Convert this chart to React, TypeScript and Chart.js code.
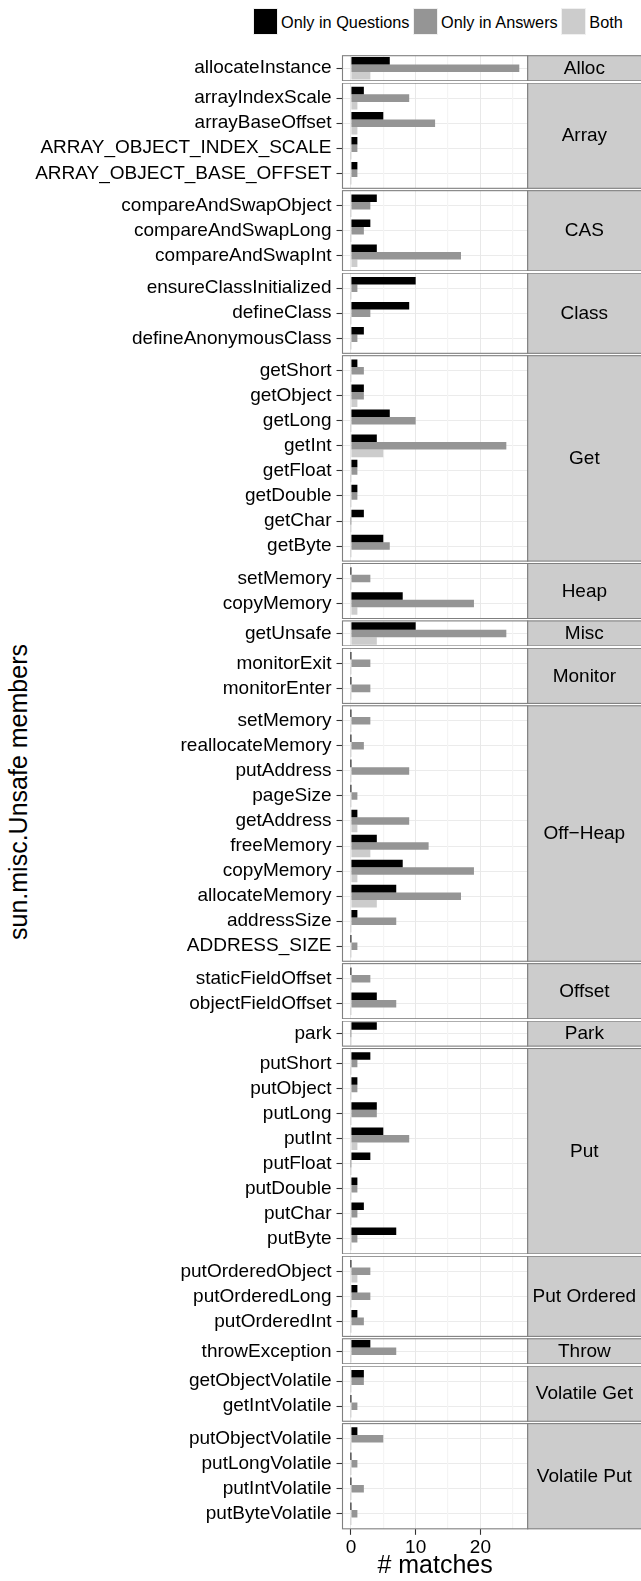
import React, { useEffect, useRef } from "react";
import { Chart, registerables } from "chart.js";

Chart.register(...registerables);

// ---------------- data ----------------
const seriesNames = ["Only in Questions", "Only in Answers", "Both"];
const seriesColors = ["#000000", "#959595", "#cccccc"];

const groupNames = [
  "Alloc", "Array", "CAS", "Class", "Get", "Heap", "Misc", "Monitor",
  "Off\u2212Heap", "Offset", "Park", "Put", "Put Ordered", "Throw",
  "Volatile Get", "Volatile Put",
];

const groupMembers = [
  ["allocateInstance"],
  ["arrayIndexScale", "arrayBaseOffset", "ARRAY_OBJECT_INDEX_SCALE", "ARRAY_OBJECT_BASE_OFFSET"],
  ["compareAndSwapObject", "compareAndSwapLong", "compareAndSwapInt"],
  ["ensureClassInitialized", "defineClass", "defineAnonymousClass"],
  ["getShort", "getObject", "getLong", "getInt", "getFloat", "getDouble", "getChar", "getByte"],
  ["setMemory", "copyMemory"],
  ["getUnsafe"],
  ["monitorExit", "monitorEnter"],
  ["setMemory", "reallocateMemory", "putAddress", "pageSize", "getAddress", "freeMemory", "copyMemory", "allocateMemory", "addressSize", "ADDRESS_SIZE"],
  ["staticFieldOffset", "objectFieldOffset"],
  ["park"],
  ["putShort", "putObject", "putLong", "putInt", "putFloat", "putDouble", "putChar", "putByte"],
  ["putOrderedObject", "putOrderedLong", "putOrderedInt"],
  ["throwException"],
  ["getObjectVolatile", "getIntVolatile"],
  ["putObjectVolatile", "putLongVolatile", "putIntVolatile", "putByteVolatile"],
];

const onlyQuestions = [
  [6],
  [2, 5, 1, 1],
  [4, 3, 4],
  [10, 9, 2],
  [1, 2, 6, 4, 1, 1, 2, 5],
  [0, 8],
  [10],
  [0, 0],
  [0, 0, 0, 0, 1, 4, 8, 7, 1, 0],
  [0, 4],
  [4],
  [3, 1, 4, 5, 3, 1, 2, 7],
  [0, 1, 1],
  [3],
  [2, 0],
  [1, 0, 0, 0],
];

const onlyAnswers = [
  [26],
  [9, 13, 1, 1],
  [3, 2, 17],
  [1, 3, 1],
  [2, 2, 10, 24, 1, 1, 0, 6],
  [3, 19],
  [24],
  [3, 3],
  [3, 2, 9, 1, 9, 12, 19, 17, 7, 1],
  [3, 7],
  [0],
  [1, 1, 4, 9, 0, 1, 1, 1],
  [3, 3, 2],
  [7],
  [2, 1],
  [5, 1, 2, 1],
];

const bothCounts = [
  [3],
  [1, 1, 0, 0],
  [0, 0, 1],
  [0, 0, 0],
  [0, 1, 0, 5, 0, 0, 0, 0],
  [0, 1],
  [4],
  [0, 0],
  [0, 0, 0, 0, 1, 3, 1, 4, 0, 0],
  [0, 0],
  [0],
  [0, 0, 0, 1, 0, 0, 0, 0],
  [1, 0, 0],
  [0],
  [0, 0],
  [0, 0, 0, 0],
];

const xTickValues = [0, 5, 10, 15, 20, 25];
const xLimits = [-1.3, 27.3];
const yTitle = "sun.misc.Unsafe members";
const xTitle = "# matches";

// ---------------- layout constants ----------------
const FONT = "'Liberation Sans', Arial, Helvetica, sans-serif";
const PAGE_W = 641;
const PAGE_H = 1581;
const UNIT = 25.05;
const GAP = 2.35;
const FIRST_TOP = 55.7;
const PANEL_LEFT = 342.5;
const PANEL_RIGHT = 527.7;

function computeLayout() {
  let y = FIRST_TOP;
  return groupMembers.map((m, gi) => {
    const n = m.length;
    const h = (n === 1 ? 1 : n + 0.2) * UNIT;
    const r = { gi, top: y, height: h, isLast: gi === groupMembers.length - 1 };
    y += h + GAP;
    return r;
  });
}

function FacetPanel({ gi, top, height, isLast }: { gi: number; top: number; height: number; isLast: boolean }) {
  const ref = useRef<HTMLCanvasElement>(null);
  const canvasTop = Math.floor(top);
  const bottom = top + height;
  const canvasBottom = isLast ? PAGE_H : Math.ceil(bottom);
  const canvasH = canvasBottom - canvasTop;
  const padTop = top - canvasTop;
  const padBottom = isLast ? 0 : canvasBottom - bottom;
  const axisH = isLast ? PAGE_H - bottom : 0;

  useEffect(() => {
    const labels = groupMembers[gi];
    const n = labels.length;
    const yMin = n === 1 ? -0.5 : -0.6;
    const yMax = n === 1 ? 0.5 : n - 0.4;
    const series = [onlyQuestions[gi], onlyAnswers[gi], bothCounts[gi]];

    const framePlugin = {
      id: "facetFrame",
      afterDatasetsDraw(chart: any) {
        const { ctx, chartArea: a } = chart;
        ctx.save();
        ctx.strokeStyle = "#7f7f7f";
        ctx.lineWidth = 1.1;
        ctx.strokeRect(a.left, a.top, a.right - a.left, a.bottom - a.top);
        ctx.restore();
      },
      afterDraw(chart: any) {
        const { ctx, chartArea: a } = chart;
        const w = chart.width;
        ctx.save();
        ctx.fillStyle = "#cccccc";
        ctx.fillRect(a.right, a.top, w - a.right, a.bottom - a.top);
        ctx.strokeStyle = "#7f7f7f";
        ctx.lineWidth = 1.1;
        ctx.strokeRect(a.right, a.top, w - a.right + 2, a.bottom - a.top);
        ctx.fillStyle = "#000";
        ctx.font = `19px ${FONT}`;
        ctx.textAlign = "center";
        ctx.textBaseline = "middle";
        ctx.fillText(groupNames[gi], (a.right + w) / 2, (a.top + a.bottom) / 2 + 0.5);
        ctx.restore();
      },
    };

    const chart = new Chart(ref.current as HTMLCanvasElement, {
      type: "bar",
      data: {
        datasets: series.map((vals, si) => ({
          label: seriesNames[si],
          data: vals.map((v, i) => ({ x: v, y: i })),
          backgroundColor: seriesColors[si],
          borderWidth: 0,
          categoryPercentage: 0.9,
          barPercentage: 1,
          minBarLength: 1,
        })),
      },
      options: {
        indexAxis: "y",
        responsive: false,
        animation: false,
        devicePixelRatio: 1,
        events: [],
        layout: { padding: { left: 0, right: PAGE_W - PANEL_RIGHT, top: padTop, bottom: padBottom } },
        plugins: { legend: { display: false }, tooltip: { enabled: false } },
        scales: {
          y: {
            type: "linear",
            bounds: "data",
            offset: false,
            reverse: true,
            min: yMin,
            max: yMax,
            afterBuildTicks: (s: any) => {
              s.min = yMin;
              s.max = yMax;
              s.ticks = labels.map((_, i) => ({ value: i }));
            },
            afterFit: (s: any) => {
              s.width = PANEL_LEFT;
              s.paddingTop = 0;
              s.paddingBottom = 0;
              s.paddingLeft = 0;
              s.paddingRight = 0;
            },
            ticks: {
              autoSkip: false,
              padding: 5,
              color: "#000",
              font: { family: FONT, size: 19 },
              callback: (v: any) => labels[v] ?? "",
            },
            grid: {
              offset: false,
              color: "#ebebeb",
              lineWidth: 1,
              drawTicks: true,
              tickLength: 6,
              tickColor: "#333333",
              tickWidth: 1.1,
            },
            border: { display: false },
          },
          x: {
            type: "linear",
            bounds: "data",
            offset: false,
            min: xLimits[0],
            max: xLimits[1],
            afterBuildTicks: (s: any) => {
              s.min = xLimits[0];
              s.max = xLimits[1];
              s.ticks = xTickValues.map((v) => ({ value: v }));
            },
            afterFit: (s: any) => {
              s.height = axisH;
              s.paddingTop = 0;
              s.paddingBottom = 0;
              s.paddingLeft = 0;
              s.paddingRight = 0;
            },
            ticks: {
              display: isLast,
              autoSkip: false,
              maxRotation: 0,
              padding: 2,
              color: "#000",
              font: { family: FONT, size: 19 },
              callback: (v: any) => (v % 10 === 0 ? String(v) : ""),
            },
            grid: {
              offset: false,
              color: (c: any) => (c.tick && c.tick.value % 10 === 0 ? "#e8e8e8" : "#f4f4f4"),
              lineWidth: (c: any) => (c.tick && c.tick.value % 10 === 0 ? 1 : 1.2),
              drawTicks: isLast,
              tickLength: 6,
              tickWidth: 1.1,
              tickColor: (c: any) => (c.tick && c.tick.value % 10 === 0 ? "#333333" : "rgba(0,0,0,0)"),
            },
            border: { display: false },
            title: {
              display: isLast,
              text: xTitle,
              color: "#000",
              font: { family: FONT, size: 25, lineHeight: 1.2 },
              padding: 0,
            },
          },
        },
      } as any,
      plugins: [framePlugin],
    });
    return () => chart.destroy();
  }, [gi]);

  return (
    <canvas
      ref={ref}
      width={PAGE_W}
      height={canvasH}
      style={{ position: "absolute", left: 0, top: canvasTop, width: PAGE_W, height: canvasH, display: "block" }}
    />
  );
}

const legendItems = [
  { key: 252.7, text: 281 },
  { key: 412.7, text: 441 },
  { key: 561, text: 589.3 },
];

export default function App() {
  const panels = computeLayout();
  return (
    <div
      style={{
        position: "absolute",
        left: 0,
        top: 0,
        width: PAGE_W,
        height: PAGE_H,
        background: "#fff",
        fontFamily: FONT,
        color: "#000",
        overflow: "hidden",
      }}
    >
      {seriesNames.map((name, i) => (
        <React.Fragment key={name}>
          <div
            style={{
              position: "absolute",
              left: legendItems[i].key,
              top: 8.3,
              width: 25,
              height: 26.7,
              boxSizing: "border-box",
              background: seriesColors[i],
              border: "1px solid #f0f0f0",
            }}
          />
          <div
            style={{
              position: "absolute",
              left: legendItems[i].text,
              top: 21.7,
              transform: "translateY(-50%)",
              fontSize: 16.3,
              lineHeight: "20px",
              whiteSpace: "nowrap",
            }}
          >
            {name}
          </div>
        </React.Fragment>
      ))}
      <div
        style={{
          position: "absolute",
          left: 17.6,
          top: 792,
          transform: "translate(-50%, -50%) rotate(-90deg)",
          fontSize: 25,
          lineHeight: "30px",
          whiteSpace: "nowrap",
        }}
      >
        {yTitle}
      </div>
      {panels.map((p) => (
        <FacetPanel key={p.gi} gi={p.gi} top={p.top} height={p.height} isLast={p.isLast} />
      ))}
    </div>
  );
}
